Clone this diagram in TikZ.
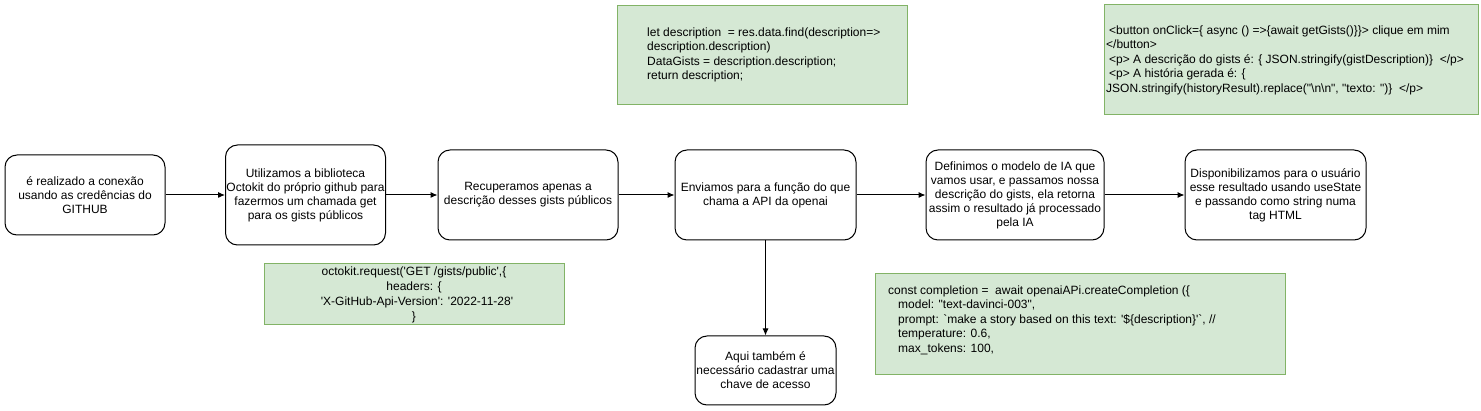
\documentclass[tikz,border=0pt]{standalone}
\usepackage{fontspec}
\setmainfont{Liberation Sans}[Ligatures=TeXOff]
\usetikzlibrary{arrows.meta}
\definecolor{gfill}{HTML}{D5E8D4}
\definecolor{gline}{HTML}{82B366}
\tikzset{
  stepbox/.style={draw=black, line width=1pt, rounded corners=12pt, fill=white, inner sep=0pt, align=center,
    font=\fontsize{12}{14}\selectfont},
  codebox/.style={draw=gline, fill=gfill, line width=1pt, inner sep=0pt},
  codetext/.style={inner sep=0pt, align=left, font=\fontsize{12}{14.5}\selectfont},
  codetextc/.style={inner sep=0pt, align=center, font=\fontsize{12}{15}\selectfont},
  flow/.style={draw=black, line width=1pt, -{Latex[length=7pt,width=6pt]}}
}
\begin{document}
\begin{tikzpicture}[x=1pt,y=-1pt]
\useasboundingbox (0,0) rectangle (1481,411);
% main steps
\node[stepbox, minimum width=160pt, minimum height=80pt] (A) at (85,195)
  {é realizado a conexão\\usando as credências do\\GITHUB};
\node[stepbox, minimum width=160pt, minimum height=100pt] (B) at (305.5,195)
  {Utilizamos a biblioteca\\Octokit do próprio github para\\fazermos um chamada get\\para os gists públicos};
\node[stepbox, minimum width=180pt, minimum height=90pt] (C) at (528,195)
  {Recuperamos apenas a\\descrição desses gists públicos};
\node[stepbox, minimum width=181pt, minimum height=90pt] (D) at (765.5,195)
  {Enviamos para a função do que\\chama a API da openai};
\node[stepbox, minimum width=178pt, minimum height=90pt] (E) at (1015,195)
  {Definimos o modelo de IA que\\vamos usar, e passamos nossa\\descrição do gists, ela retorna\\assim o resultado já processado\\pela IA};
\node[stepbox, minimum width=181pt, minimum height=90pt] (F) at (1275.5,195)
  {Disponibilizamos para o usuário\\esse resultado usando useState\\e passando como string numa\\tag HTML};
\node[stepbox, minimum width=141pt, minimum height=69pt] (G) at (765.5,370.5)
  {Aqui também é\\necessário cadastrar uma\\chave de acesso};
% code boxes
\node[codebox, minimum width=290pt, minimum height=99pt] (H) at (762,55) {};
\node[codetext, anchor=west] (Ht) at (647,55)
  {let description \ = res.data.find(description=>\\description.description)\\DataGists = description.description;\\return description;};
\node[codebox, minimum width=374pt, minimum height=110pt] (I) at (1291,60) {};
\node[codetext, anchor=west] (It) at (1106,60)
  {\hspace{3pt}<button onClick=\{ async () =>\{await getGists()\}\}> clique em mim\\</button>\\\hspace{3pt}<p> A descrição do gists é: \{ JSON.stringify(gistDescription)\} \ </p>\\\hspace{3pt}<p> A história gerada é: \{\\JSON.stringify(historyResult).replace("\textbackslash n\textbackslash n", "texto: ")\} \ </p>};
\node[codebox, minimum width=300pt, minimum height=61pt] (J) at (414,294.5) {};
\node[codetextc] (Jt) at (414,294.5)
  {octokit.request('GET /gists/public',\{\\headers: \{\\\hspace{6pt}'X-GitHub-Api-Version': '2022-11-28'\\\}};
\node[codebox, minimum width=410pt, minimum height=101pt] (K) at (1080,324.5) {};
\node[codetext, anchor=west] (Kt) at (888,320)
  {const completion = \ await openaiAPi.createCompletion (\{\\\hspace{10pt}model: "text-davinci-003",\\\hspace{10pt}prompt: `make a story based on this text: '\$\{description\}'`, //\\\hspace{10pt}temperature: 0.6,\\\hspace{10pt}max\_tokens: 100,};
% connectors
\draw[flow] (A) -- (B);
\draw[flow] (B) -- (C);
\draw[flow] (C) -- (D);
\draw[flow] (D) -- (E);
\draw[flow] (E) -- (F);
\draw[flow] (D) -- (G);
\end{tikzpicture}
\end{document}
